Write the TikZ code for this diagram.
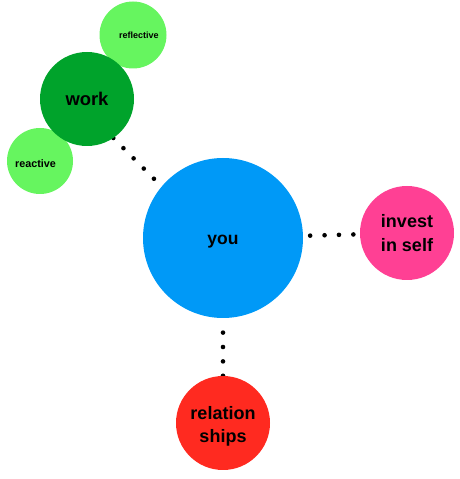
\documentclass[tikz,border=0pt]{standalone}
\usepackage{fontspec}
\setmainfont{Liberation Sans}
\usetikzlibrary{backgrounds}
\definecolor{LeafGreen}{HTML}{66F55F}
\definecolor{WorkGreen}{HTML}{00A32B}
\definecolor{YouBlue}{HTML}{0099F7}
\definecolor{SelfPink}{HTML}{FF4094}
\definecolor{RelRed}{HTML}{FF2A20}

\begin{document}
\begin{tikzpicture}[x=1pt,y=1pt,
  bubble/.style={circle,inner sep=0pt,outer sep=0pt,align=center},
  dotline/.style={line width=4.6pt,line cap=round,dash pattern=on 0pt off 14.4pt}]
 \useasboundingbox (0,0) rectangle (460,479);
 % small bubbles round work
 \node[bubble,fill=LeafGreen,minimum size=67pt,text width=51.5pt,align=right,
   font=\bfseries\fontsize{9}{11}\selectfont] (reflective) at (133,444) {reflective};
 \node[bubble,fill=LeafGreen,minimum size=66pt,text width=49.8pt,align=left,text height=13pt,text depth=0pt,
   font=\bfseries\fontsize{10.8}{13}\selectfont] (reactive) at (40,318) {reactive};
 \node[bubble,fill=WorkGreen,minimum size=94pt,font=\bfseries\fontsize{18.4}{22}\selectfont] (work) at (87,380) {work};
 % centre
 \node[bubble,fill=YouBlue,minimum size=160pt,text height=14pt,text depth=0pt,
   font=\bfseries\fontsize{17.5}{21}\selectfont] (you) at (223,241) {you};
 % outer bubbles
 \node[bubble,fill=SelfPink,minimum size=94pt,font=\bfseries\fontsize{18}{24}\selectfont] (invest) at (407,246) {invest\\in self};
 \node[bubble,fill=RelRed,minimum size=94pt,text height=40pt,text depth=0pt,
   font=\bfseries\fontsize{18}{23}\selectfont] (relationships) at (223,56) {relation\\ships};
 % dotted links
 \begin{scope}[on background layer]
  \draw[dotline] (work.-56) -- (you.140);
  \draw[dotline,shorten <=7.2pt] (you) -- (invest);
  \draw[dotline,shorten <=14.6pt] (you) -- (relationships);
 \end{scope}
\end{tikzpicture}
\end{document}
